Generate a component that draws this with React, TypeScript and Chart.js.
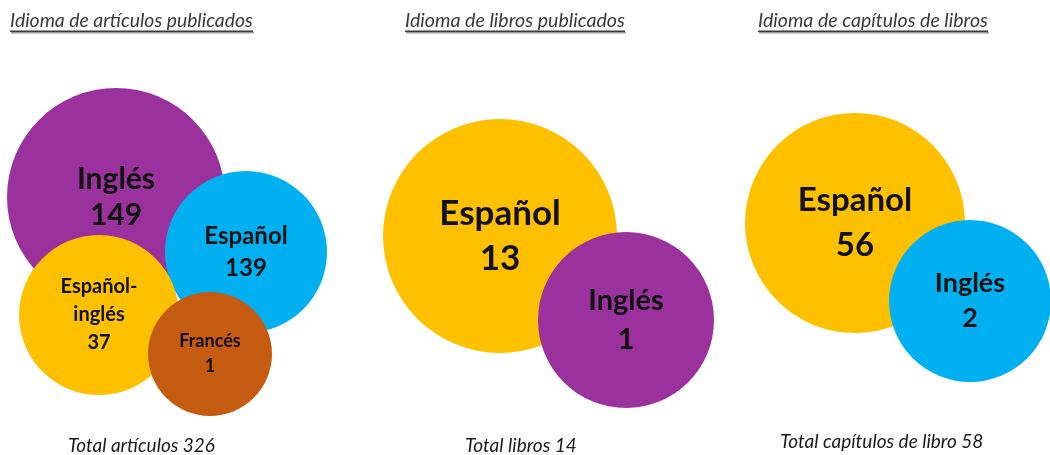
import React, { useEffect, useRef } from "react";
import { Chart, registerables } from "chart.js";

Chart.register(...registerables);

// ---- Data ----
const panelTitles = [
  "Idioma de artículos publicados",
  "Idioma de libros publicados",
  "Idioma de capítulos de libros",
];
const totalLabels = ["Total artículos", "Total libros", "Total capítulos de libro"];

const articleLangs = ["Inglés", "Español", "Español-\ninglés", "Francés"];
const articleValues = [149, 139, 37, 1];

const bookLangs = ["Español", "Inglés"];
const bookValues = [13, 1];

const chapterLangs = ["Español", "Inglés"];
const chapterValues = [56, 2];

// ---- Layout (packed bubble placement, in scale units) ----
const articleLayout = [
  { x: 116, y: 197, r: 109 },
  { x: 246, y: 252, r: 81 },
  { x: 99, y: 315, r: 80 },
  { x: 210, y: 354, r: 62 },
];
const bookLayout = [
  { x: 500, y: 236, r: 117 },
  { x: 626, y: 320, r: 88 },
];
const chapterLayout = [
  { x: 855, y: 223, r: 110 },
  { x: 970, y: 301, r: 81 },
];

const articleColors = ["#9B319D", "#00B0F0", "#FFC000", "#C55A11"];
const bookColors = ["#FFC000", "#9B319D"];
const chapterColors = ["#FFC000", "#00B0F0"];

const articleFont = [
  { size: 30, lh: 36 },
  { size: 24, lh: 32 },
  { size: 20, lh: 28 },
  { size: 18, lh: 25 },
];
const bookFont = [
  { size: 35, lh: 45 },
  { size: 29, lh: 39 },
];
const chapterFont = [
  { size: 33, lh: 45 },
  { size: 27, lh: 35 },
];

const titleBoxes = [
  { x: 10, w: 243 },
  { x: 405, w: 220 },
  { x: 758, w: 230 },
];
const totalBoxes = [
  { x: 68, w: 147, y: 446 },
  { x: 465, w: 115, y: 446 },
  { x: 780, w: 210, y: 442 },
];

const FONT = "Lato, 'Open Sans', sans-serif";

const sum = (a: number[]) => a.reduce((s, v) => s + v, 0);

function makeDataset(
  langs: string[],
  values: number[],
  layout: { x: number; y: number; r: number }[],
  colors: string[],
  fonts: { size: number; lh: number }[]
) {
  return {
    label: langs.join(","),
    data: layout.map((p, i) => ({ x: p.x, y: p.y, r: p.r, value: values[i] })),
    backgroundColor: colors,
    hoverBackgroundColor: colors,
    borderWidth: 0,
    hoverBorderWidth: 0,
    clip: false as any,
    langs,
    fonts,
  } as any;
}

export default function App() {
  const ref = useRef<HTMLCanvasElement | null>(null);

  useEffect(() => {
    document.body.style.margin = "0";
    const canvas = ref.current;
    if (!canvas) return;

    const labelPlugin = {
      id: "bubbleLabels",
      afterDatasetsDraw(chart: any) {
        const ctx = chart.ctx as CanvasRenderingContext2D;
        ctx.save();
        chart.data.datasets.forEach((ds: any, di: number) => {
          const meta = chart.getDatasetMeta(di);
          meta.data.forEach((el: any, i: number) => {
            const lines = (ds.langs[i] as string).split("\n").concat(String(ds.data[i].value));
            const f = ds.fonts[i];
            ctx.font = `bold ${f.size}px ${FONT}`;
            ctx.fillStyle = "#111";
            ctx.textAlign = "center";
            ctx.textBaseline = "middle";
            const total = (lines.length - 1) * f.lh;
            lines.forEach((ln: string, k: number) => {
              ctx.fillText(ln, el.x, el.y - total / 2 + k * f.lh);
            });
          });
        });
        ctx.restore();
      },
      afterDraw(chart: any) {
        const ctx = chart.ctx as CanvasRenderingContext2D;
        ctx.save();
        // titles
        panelTitles.forEach((t, i) => {
          const b = titleBoxes[i];
          ctx.font = `italic 16px ${FONT}`;
          const w = ctx.measureText(t).width;
          const size = (16 * b.w) / w;
          ctx.font = `italic ${size}px ${FONT}`;
          ctx.fillStyle = "#3a3a3a";
          ctx.textAlign = "left";
          ctx.textBaseline = "alphabetic";
          ctx.fillText(t, b.x, 27);
          ctx.fillStyle = "#9a9a9a";
          ctx.fillRect(b.x + 1, 32, b.w, 1.5);
          ctx.fillStyle = "#3a3a3a";
          ctx.fillRect(b.x, 30.5, b.w, 1.5);
        });
        // totals
        const totals = [sum(articleValues), sum(bookValues), sum(chapterValues)];
        totalLabels.forEach((t, i) => {
          const b = totalBoxes[i];
          const txt = `${t} ${totals[i]}`;
          ctx.font = `italic 15px ${FONT}`;
          const w = ctx.measureText(txt).width;
          const size = Math.min(19, (15 * b.w) / w);
          ctx.font = `italic ${size}px ${FONT}`;
          ctx.fillStyle = "#1a1a1a";
          ctx.textAlign = "left";
          ctx.textBaseline = "middle";
          ctx.fillText(txt, b.x, b.y);
        });
        ctx.restore();
      },
    };

    const chart = new Chart(canvas, {
      type: "bubble",
      data: {
        datasets: [
          makeDataset(articleLangs, articleValues, articleLayout, articleColors, articleFont),
          makeDataset(bookLangs, bookValues, bookLayout, bookColors, bookFont),
          makeDataset(chapterLangs, chapterValues, chapterLayout, chapterColors, chapterFont),
        ],
      },
      options: {
        animation: false,
        responsive: false,
        devicePixelRatio: 1,
        layout: { padding: 0, autoPadding: false },
        events: [],
        plugins: {
          legend: { display: false },
          tooltip: { enabled: false },
          title: { display: false },
        },
        scales: {
          x: { type: "linear", min: 0, max: 1050, display: false },
          y: { type: "linear", min: 0, max: 455, reverse: true, display: false },
        },
      },
      plugins: [labelPlugin],
    });

    return () => chart.destroy();
  }, []);

  return (
    <div style={{ width: 1050, height: 455, background: "#fff" }}>
      <canvas ref={ref} width={1050} height={455} style={{ display: "block" }} />
    </div>
  );
}
